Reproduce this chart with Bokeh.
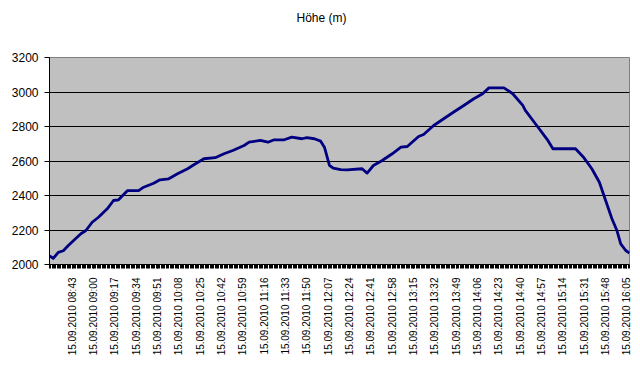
import math
from bokeh.plotting import figure
from bokeh.models import Range1d, FixedTicker, ColumnDataSource, Title
from bokeh.embed import file_html
from bokeh.resources import INLINE

# Waypoints (time of day, altitude in m)
times = ["08:25", "08:28", "08:32", "08:36", "08:40", "08:44", "08:50", "08:54", "08:59",
         "09:04", "09:11", "09:16", "09:20", "09:27", "09:36", "09:40", "09:48", "09:53",
         "10:00", "10:07", "10:15", "10:20", "10:28", "10:37", "10:44", "10:51", "11:00",
         "11:04", "11:13", "11:19", "11:24", "11:32", "11:38", "11:46", "11:50", "11:56",
         "12:01", "12:04", "12:08", "12:11", "12:17", "12:22", "12:34", "12:38", "12:43",
         "12:50", "12:58", "13:05", "13:10", "13:19", "13:23", "13:31", "13:39", "13:47",
         "13:55", "14:03", "14:10", "14:15", "14:27", "14:34", "14:42", "14:44", "14:51",
         "14:54", "15:00", "15:02", "15:06", "15:24", "15:30", "15:37", "15:43", "15:48",
         "15:53", "15:57", "16:00", "16:04", "16:07"]
altitude = [2050, 2036, 2070, 2080, 2110, 2138, 2178, 2197, 2245,
            2274, 2323, 2371, 2375, 2428, 2428, 2448, 2471, 2491,
            2497, 2526, 2555, 2578, 2613, 2619, 2642, 2661, 2690,
            2709, 2719, 2709, 2723, 2723, 2738, 2729, 2735, 2729,
            2715, 2680, 2574, 2558, 2550, 2549, 2555, 2530, 2574,
            2603, 2642, 2680, 2684, 2742, 2754, 2806, 2845, 2884,
            2922, 2961, 2990, 3024, 3024, 2990, 2922, 2893, 2826,
            2797, 2738, 2719, 2671, 2671, 2625, 2555, 2477, 2371,
            2265, 2197, 2120, 2081, 2066]

tick_times = ["08:43", "09:00", "09:17", "09:34", "09:51", "10:08", "10:25", "10:42", "10:59",
              "11:16", "11:33", "11:50", "12:07", "12:24", "12:41", "12:58", "13:15", "13:32",
              "13:49", "14:06", "14:23", "14:40", "14:57", "15:14", "15:31", "15:48", "16:05"]
date_label = "15.09.2010"
y_ticks = [2000, 2200, 2400, 2600, 2800, 3000, 3200]
title_text = "Höhe (m)"


def to_min(t):
    h, m = t.split(":")
    return int(h) * 60 + int(m)


x = [to_min(t) for t in times]
src = ColumnDataSource(data=dict(x=x, y=altitude))

x_start = to_min("08:25")
x_end = to_min("16:07")

p = figure(width=640, height=379, output_backend="svg", toolbar_location=None,
           x_range=Range1d(x_start, x_end), y_range=Range1d(2000, 3200),
           min_border_left=49, min_border_right=11, min_border_top=57, min_border_bottom=115,
           title=None)

spacer = Title(text=" ", text_font_size="14px", text_font="Liberation Sans")
main_title = Title(text=title_text, align="left", offset=247,
                   text_font="Liberation Sans", text_font_size="12px",
                   text_font_style="normal", text_color="#000000")
p.add_layout(spacer, "above")
p.add_layout(main_title, "above")

p.background_fill_color = "#C0C0C0"
p.border_fill_color = "#FFFFFF"
p.outline_line_color = "#808080"
p.outline_line_width = 1

p.line("x", "y", source=src, line_color="#000080", line_width=2.8, line_join="round")

# y axis
p.yaxis.ticker = FixedTicker(ticks=y_ticks)
p.yaxis.minor_tick_line_color = None
p.yaxis.major_tick_out = 5
p.yaxis.major_tick_in = 0
p.yaxis.major_label_standoff = 6
p.yaxis.major_label_text_font = "Liberation Sans"
p.yaxis.major_label_text_font_size = "12px"
p.yaxis.major_label_text_color = "#000000"
p.yaxis.axis_line_color = "#000000"
p.yaxis.major_tick_line_color = "#000000"

# x axis
major = [to_min(t) for t in tick_times]
minor = list(range(x_start, x_end + 1))
p.xaxis.ticker = FixedTicker(ticks=major, minor_ticks=minor)
p.xaxis.major_label_overrides = {to_min(t): f"{date_label} {t}" for t in tick_times}
p.xaxis.major_label_orientation = math.pi / 2
p.xaxis.major_tick_out = 4
p.xaxis.major_tick_in = 0
p.xaxis.minor_tick_out = 4
p.xaxis.minor_tick_in = 0
p.xaxis.major_tick_line_color = "#000000"
p.xaxis.minor_tick_line_color = "#000000"
p.xaxis.major_label_standoff = 9
p.xaxis.major_label_text_font = "Liberation Sans"
p.xaxis.major_label_text_font_size = "10px"
p.xaxis.major_label_text_color = "#000000"
p.xaxis.axis_line_color = "#000000"

p.xgrid.grid_line_color = None
p.ygrid.ticker = FixedTicker(ticks=y_ticks)
p.ygrid.grid_line_color = "#000000"
p.ygrid.grid_line_width = 1

open("out.html", "w").write(file_html(p, INLINE))
